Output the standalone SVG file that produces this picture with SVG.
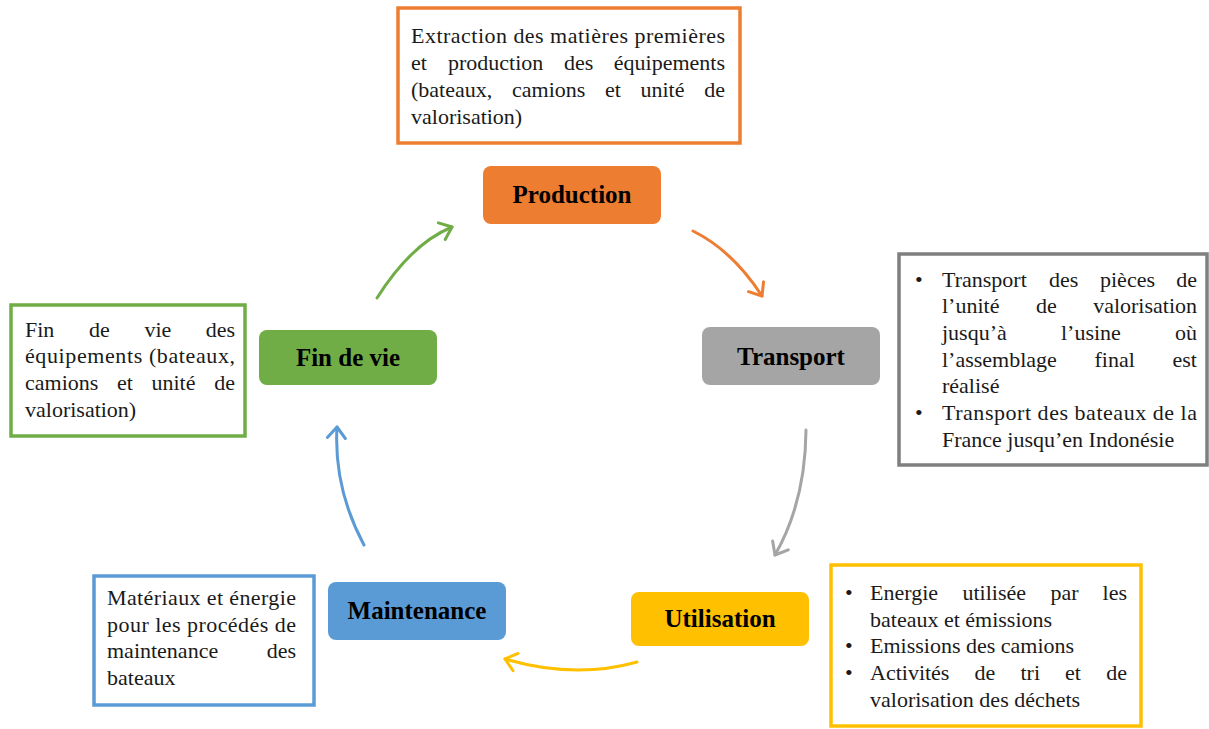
<svg xmlns="http://www.w3.org/2000/svg" width="1209" height="729" viewBox="0 0 1209 729">
<style>
.lbl{font-family:"Liberation Serif","Times New Roman",serif;font-weight:bold;font-size:25px;fill:#000;text-anchor:middle}
.t{font-family:"Liberation Serif","Times New Roman",serif;font-size:22px;fill:#1a1a1a}
.e{text-anchor:end}
.box{fill:#fff;stroke-width:3.5}
.arr{fill:none;stroke-width:3;stroke-linecap:round}
</style>
<defs>
<marker id="mO" markerUnits="userSpaceOnUse" markerWidth="30" markerHeight="30" refX="0" refY="0" viewBox="-15 -15 30 30" orient="auto"><path d="M-11,-9 L0,0 L-11,9" fill="none" stroke="#ED7D31" stroke-width="3" stroke-linecap="round" stroke-linejoin="round"/></marker>
<marker id="mG" markerUnits="userSpaceOnUse" markerWidth="30" markerHeight="30" refX="0" refY="0" viewBox="-15 -15 30 30" orient="auto"><path d="M-11,-9 L0,0 L-11,9" fill="none" stroke="#A5A5A5" stroke-width="3" stroke-linecap="round" stroke-linejoin="round"/></marker>
<marker id="mY" markerUnits="userSpaceOnUse" markerWidth="30" markerHeight="30" refX="0" refY="0" viewBox="-15 -15 30 30" orient="auto"><path d="M-11,-9 L0,0 L-11,9" fill="none" stroke="#FFC000" stroke-width="3" stroke-linecap="round" stroke-linejoin="round"/></marker>
<marker id="mB" markerUnits="userSpaceOnUse" markerWidth="30" markerHeight="30" refX="0" refY="0" viewBox="-15 -15 30 30" orient="auto"><path d="M-11,-9 L0,0 L-11,9" fill="none" stroke="#5B9BD5" stroke-width="3" stroke-linecap="round" stroke-linejoin="round"/></marker>
<marker id="mV" markerUnits="userSpaceOnUse" markerWidth="30" markerHeight="30" refX="0" refY="0" viewBox="-15 -15 30 30" orient="auto"><path d="M-11,-9 L0,0 L-11,9" fill="none" stroke="#70AD47" stroke-width="3" stroke-linecap="round" stroke-linejoin="round"/></marker>
</defs>
<rect width="1209" height="729" fill="#fff"/>

<g id="connectors">
<path class="arr" stroke="#ED7D31" d="M693,231 Q732.5,250.5 762,296" marker-end="url(#mO)"/>
<path class="arr" stroke="#A5A5A5" d="M806,430 Q805.5,501.5 775,555" marker-end="url(#mG)"/>
<path class="arr" stroke="#FFC000" d="M637,662 Q575,679.5 505,659" marker-end="url(#mY)"/>
<path class="arr" stroke="#5B9BD5" d="M364,545 Q333.5,488 337,427" marker-end="url(#mB)"/>
<path class="arr" stroke="#70AD47" d="M377,298 Q411.5,243.5 452,227" marker-end="url(#mV)"/>
</g>

<g id="production">
<rect x="483" y="166" width="178" height="58" rx="8" fill="#ED7D31"/>
<text class="lbl" x="572" y="203">Production</text>
</g>
<g id="transport">
<rect x="702" y="327" width="178" height="58" rx="8" fill="#A5A5A5"/>
<text class="lbl" x="791" y="365">Transport</text>
</g>
<g id="utilisation">
<rect x="631" y="592" width="178" height="54" rx="8" fill="#FFC000"/>
<text class="lbl" x="720" y="627">Utilisation</text>
</g>
<g id="maintenance">
<rect x="328" y="582" width="178" height="58" rx="8" fill="#5B9BD5"/>
<text class="lbl" x="417" y="619">Maintenance</text>
</g>
<g id="fin-de-vie">
<rect x="259" y="330" width="178" height="55" rx="8" fill="#70AD47"/>
<text class="lbl" x="348" y="366">Fin de vie</text>
</g>

<g id="note-production">
<rect class="box" x="398" y="8" width="342" height="135" stroke="#ED7D31"/>
<text class="t" x="411" y="43" textLength="314" lengthAdjust="spacing">Extraction des matières premières</text>
<text class="t" x="411" y="70">et</text>
<text class="t" x="448" y="70">production</text>
<text class="t" x="564" y="70">des</text>
<text class="t e" x="725" y="70">équipements</text>
<text class="t" x="411" y="97">(bateaux,</text>
<text class="t" x="512" y="97">camions</text>
<text class="t" x="605" y="97">et</text>
<text class="t" x="640.5" y="97">unité</text>
<text class="t e" x="725" y="97">de</text>
<text class="t" x="411" y="124">valorisation)</text>
</g>

<g id="note-transport">
<rect class="box" x="899" y="254" width="308" height="211" stroke="#7F7F7F" stroke-width="4"/>
<text class="t" x="915" y="287">•</text>
<text class="t" x="942" y="287">Transport</text>
<text class="t" x="1049" y="287">des</text>
<text class="t" x="1100" y="287">pièces</text>
<text class="t e" x="1197" y="287">de</text>
<text class="t" x="942" y="313">l’unité</text>
<text class="t" x="1036" y="313">de</text>
<text class="t e" x="1197" y="313">valorisation</text>
<text class="t" x="942" y="340">jusqu’à</text>
<text class="t" x="1061" y="340">l’usine</text>
<text class="t e" x="1197" y="340">où</text>
<text class="t" x="942" y="367">l’assemblage</text>
<text class="t" x="1094.5" y="367">final</text>
<text class="t e" x="1197" y="367">est</text>
<text class="t" x="942" y="393">réalisé</text>
<text class="t" x="915" y="420">•</text>
<text class="t" x="942" y="420" textLength="255" lengthAdjust="spacing">Transport des bateaux de la</text>
<text class="t" x="942" y="447">France jusqu’en Indonésie</text>
</g>

<g id="note-utilisation">
<rect class="box" x="831" y="565" width="310" height="161" stroke="#FFC000"/>
<text class="t" x="845" y="600">•</text>
<text class="t" x="870" y="600">Energie</text>
<text class="t" x="962.5" y="600">utilisée</text>
<text class="t" x="1050.5" y="600">par</text>
<text class="t e" x="1127" y="600">les</text>
<text class="t" x="870" y="627">bateaux et émissions</text>
<text class="t" x="845" y="653">•</text>
<text class="t" x="870" y="653">Emissions des camions</text>
<text class="t" x="845" y="680">•</text>
<text class="t" x="870" y="680">Activités</text>
<text class="t" x="974.5" y="680">de</text>
<text class="t" x="1020.5" y="680">tri</text>
<text class="t" x="1065" y="680">et</text>
<text class="t e" x="1127" y="680">de</text>
<text class="t" x="870" y="707">valorisation des déchets</text>
</g>

<g id="note-maintenance">
<rect class="box" x="94" y="576" width="220" height="129" stroke="#5B9BD5"/>
<text class="t" x="107" y="605" textLength="189" lengthAdjust="spacing">Matériaux et énergie</text>
<text class="t" x="107" y="632" textLength="189" lengthAdjust="spacing">pour les procédés de</text>
<text class="t" x="107" y="658">maintenance</text>
<text class="t e" x="296" y="658">des</text>
<text class="t" x="107" y="685">bateaux</text>
</g>

<g id="note-fin-de-vie">
<rect class="box" x="11" y="305" width="234" height="131" stroke="#70AD47"/>
<text class="t" x="25" y="337">Fin</text>
<text class="t" x="89" y="337">de</text>
<text class="t" x="144.5" y="337">vie</text>
<text class="t e" x="235" y="337">des</text>
<text class="t" x="25" y="363" textLength="210" lengthAdjust="spacing">équipements (bateaux,</text>
<text class="t" x="25" y="390">camions</text>
<text class="t" x="117" y="390">et</text>
<text class="t" x="151.5" y="390">unité</text>
<text class="t e" x="235" y="390">de</text>
<text class="t" x="25" y="417">valorisation)</text>
</g>
</svg>
